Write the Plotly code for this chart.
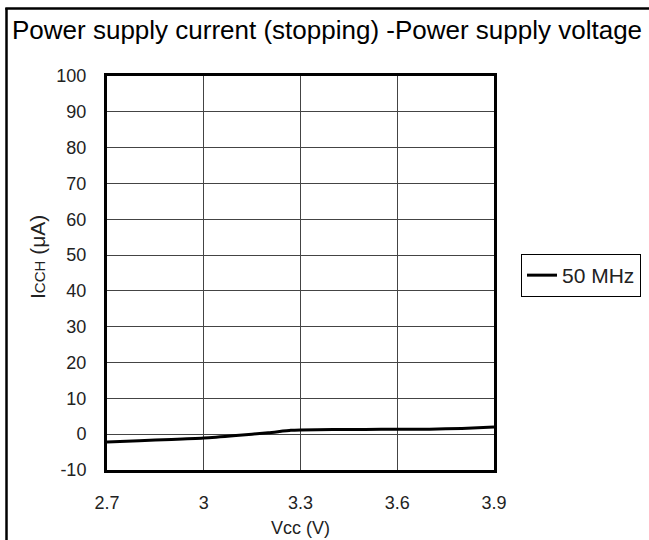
import plotly.graph_objects as go

vcc = [2.7, 2.8, 2.9, 3.0, 3.1, 3.2, 3.27, 3.3, 3.4, 3.5, 3.6, 3.7, 3.8, 3.9]
icch_50mhz = [-2.2, -1.8, -1.5, -1.1, -0.4, 0.4, 1.1, 1.2, 1.3, 1.3, 1.4, 1.4, 1.6, 2.0]

x_ticks = [2.7, 3.0, 3.3, 3.6, 3.9]
x_tick_labels = ["2.7", "3", "3.3", "3.6", "3.9"]
y_ticks = [-10, 0, 10, 20, 30, 40, 50, 60, 70, 80, 90, 100]
y_tick_labels = ["-10", "0", "10", "20", "30", "40", "50", "60", "70", "80", "90", "100"]

W, H = 649, 540
L, R, T, B = 107, 494, 76, 470
pw, ph = R - L, B - T

def px(x):
    return (x - L) / pw

def py(y):
    return (B - y) / ph

FONT = "Liberation Sans, Arial, sans-serif"

fig = go.Figure()
fig.add_trace(go.Scatter(
    x=vcc, y=icch_50mhz, mode="lines", name="50 MHz",
    line=dict(color="black", width=3, shape="spline", smoothing=0.6),
))

fig.update_layout(
    width=W, height=H,
    margin=dict(l=L, r=W - R, t=T, b=H - B, autoexpand=False),
    paper_bgcolor="white", plot_bgcolor="white",
    font=dict(family=FONT, size=18, color="#222"),
    showlegend=True,
    legend=dict(
        x=px(521), y=py(254), xanchor="left", yanchor="top",
        bordercolor="black", borderwidth=1, bgcolor="white",
        font=dict(size=21, color="#222"),
        itemwidth=30, tracegroupgap=0,
    ),
    xaxis=dict(
        range=[2.7, 3.9], tickvals=x_ticks, ticktext=x_tick_labels,
        showgrid=True, gridcolor="#444", gridwidth=1,
        showline=True, linecolor="black", linewidth=3, mirror=True,
        zeroline=False, ticks="", ticklen=0, ticklabelstandoff=14,
        tickfont=dict(size=18, color="#222"),
    ),
    yaxis=dict(
        range=[-10, 100], tickvals=y_ticks, ticktext=y_tick_labels,
        showgrid=True, gridcolor="#444", gridwidth=1,
        showline=True, linecolor="black", linewidth=3, mirror=True,
        zeroline=False, ticks="", ticklen=0, ticklabelstandoff=14,
        tickfont=dict(size=18, color="#222"),
    ),
    annotations=[
        dict(text="Power supply current (stopping) -Power supply voltage",
             x=px(10), y=py(30), xref="paper", yref="paper",
             xanchor="left", yanchor="middle", showarrow=False,
             font=dict(size=26, color="black", family=FONT)),
        dict(text="I<span style='font-size:15px'>CCH</span> (μA)",
             x=px(37), y=py(257), xref="paper", yref="paper",
             xanchor="center", yanchor="middle", textangle=-90, showarrow=False,
             font=dict(size=21, color="#222", family=FONT)),
        dict(text="Vcc (V)",
             x=px(300), y=py(528), xref="paper", yref="paper",
             xanchor="center", yanchor="middle", showarrow=False,
             font=dict(size=18, color="#222", family=FONT)),
    ],
    shapes=[
        dict(type="line", xref="paper", yref="paper",
             x0=px(6.5), x1=px(6.5), y0=py(8), y1=py(560),
             line=dict(color="black", width=2.5)),
        dict(type="line", xref="paper", yref="paper",
             x0=px(5.3), x1=px(700), y0=py(8.5), y1=py(8.5),
             line=dict(color="black", width=2.5)),
    ],
)

fig.write_html("out.html", config={"displayModeBar": False},
               post_script="document.body.style.margin='0';")
